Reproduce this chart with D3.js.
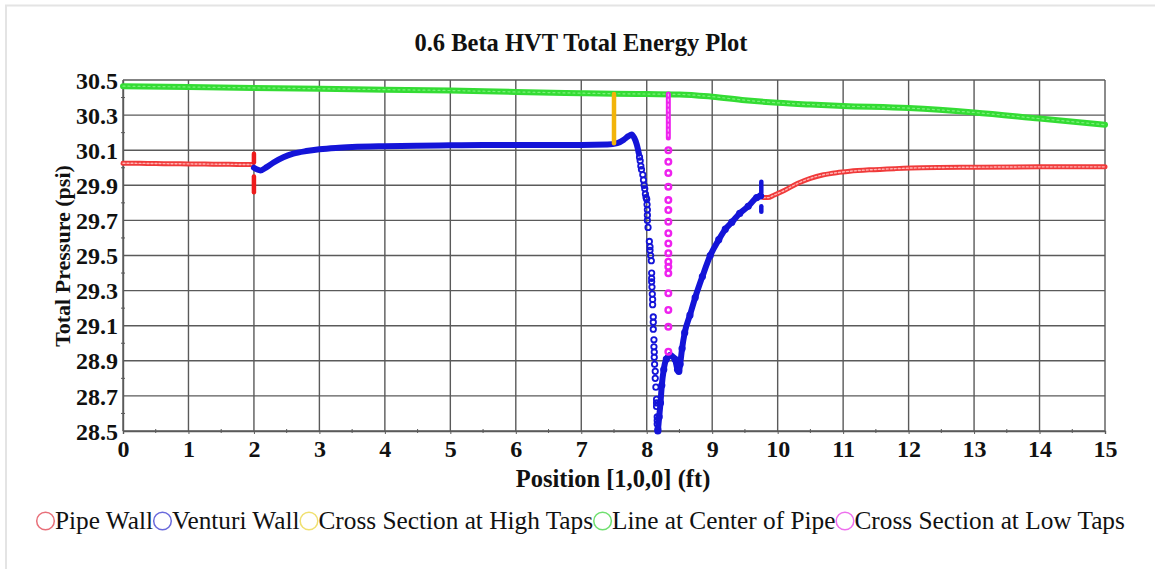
<!DOCTYPE html>
<html>
<head>
<meta charset="utf-8">
<script src="https://cdn.jsdelivr.net/npm/d3@7"></script>
<style>
  html, body { margin: 0; padding: 0; background: #fff; }
  svg { display: block; font-family: "Liberation Serif", "Times New Roman", serif; }
</style>
</head>
<body>
<div id="chart"></div>
<script>
// Chart data: [position ft, total pressure psi]
const xTicks = [0, 1, 2, 3, 4, 5, 6, 7, 8, 9, 10, 11, 12, 13, 14, 15];
const yTicks = [28.5, 28.7, 28.9, 29.1, 29.3, 29.5, 29.7, 29.9, 30.1, 30.3, 30.5];
const seriesNames = ["Pipe Wall", "Venturi Wall", "Cross Section at High Taps", "Line at Center of Pipe", "Cross Section at Low Taps"];

const pipeWallInlet = [[0, 30.026], [0.25, 30.025], [0.5, 30.024], [0.75, 30.023], [1, 30.022], [1.25, 30.021], [1.5, 30.02], [1.75, 30.019], [1.97, 30.018]];
const pipeWallTap = [[2, 30.08], [2, 30.07], [2, 30.06], [2, 30.05], [2, 30.04], [2, 30.03], [2, 29.95], [2, 29.94], [2, 29.93], [2, 29.92], [2, 29.91], [2, 29.9], [2, 29.88], [2, 29.86]];
const pipeWallOutlet = [[9.78, 29.83], [9.85, 29.83], [9.95, 29.845], [10.1, 29.87], [10.3, 29.91], [10.5, 29.94], [10.7, 29.96], [10.9, 29.972], [11.1, 29.98], [11.4, 29.988], [11.8, 29.995], [12.2, 30.0], [13, 30.003], [14, 30.005], [15, 30.005]];

const venturiInlet = [[2, 30.0], [2.05, 29.99], [2.1, 29.985], [2.2, 30.005], [2.3, 30.03], [2.45, 30.06], [2.6, 30.08], [2.8, 30.095], [3, 30.105], [3.25, 30.113], [3.5, 30.118], [4, 30.123], [4.5, 30.126], [5, 30.128], [5.5, 30.13], [6, 30.13], [6.5, 30.13], [7, 30.13], [7.4, 30.132], [7.55, 30.14], [7.65, 30.16], [7.72, 30.18], [7.77, 30.19], [7.81, 30.17], [7.85, 30.13], [7.88, 30.08]];
const venturiThroat = [[7.89, 30.06], [7.9, 30.04], [7.91, 30.01], [7.92, 29.99], [7.94, 29.96], [7.95, 29.93], [7.96, 29.9], [7.97, 29.88], [7.98, 29.85], [7.99, 29.83], [8, 29.82], [8.005, 29.79], [8.01, 29.76], [8.01, 29.73], [8.01, 29.7], [8.02, 29.66], [8.04, 29.58], [8.05, 29.55], [8.05, 29.53], [8.06, 29.5], [8.07, 29.47], [8.075, 29.4], [8.075, 29.37], [8.075, 29.35], [8.08, 29.32], [8.085, 29.28], [8.09, 29.25], [8.09, 29.22], [8.1, 29.15], [8.1, 29.12], [8.1, 29.08], [8.11, 29.02], [8.11, 28.98], [8.115, 28.95], [8.115, 28.92], [8.12, 28.88], [8.13, 28.84], [8.13, 28.8], [8.14, 28.75], [8.15, 28.68], [8.15, 28.66], [8.15, 28.64], [8.16, 28.58], [8.16, 28.56], [8.16, 28.54], [8.17, 28.51]];
const venturiRecovery = [[8.17, 28.5], [8.19, 28.58], [8.21, 28.66], [8.23, 28.76], [8.26, 28.85], [8.3, 28.91], [8.36, 28.93], [8.43, 28.91], [8.47, 28.85], [8.49, 28.84], [8.51, 28.88], [8.54, 28.97], [8.58, 29.06], [8.66, 29.16], [8.74, 29.26], [8.85, 29.38], [8.97, 29.5], [9.1, 29.59], [9.2, 29.65], [9.3, 29.69], [9.42, 29.74], [9.55, 29.78], [9.68, 29.83], [9.74, 29.84]];
const venturiTap = [[9.75, 29.92], [9.75, 29.91], [9.75, 29.9], [9.75, 29.89], [9.75, 29.88], [9.75, 29.87], [9.75, 29.86], [9.75, 29.78], [9.75, 29.77], [9.75, 29.76], [9.75, 29.75]];

const highTaps = [[7.5, 30.42], [7.5, 30.4], [7.5, 30.38], [7.5, 30.36], [7.5, 30.34], [7.5, 30.32], [7.5, 30.3], [7.5, 30.28], [7.5, 30.26], [7.5, 30.24], [7.5, 30.22], [7.5, 30.2], [7.5, 30.18], [7.5, 30.16], [7.5, 30.14]];

const centerLine = [[0, 30.465], [1, 30.46], [2, 30.455], [3, 30.45], [4, 30.445], [5, 30.44], [6, 30.432], [7, 30.425], [7.5, 30.422], [8, 30.42], [8.5, 30.418], [9, 30.405], [9.5, 30.385], [10, 30.37], [10.5, 30.36], [11, 30.352], [12, 30.34], [13, 30.315], [14, 30.28], [15, 30.245]];

const lowTapsDense = [[8.33, 30.42], [8.33, 30.405], [8.33, 30.39], [8.33, 30.375], [8.33, 30.36], [8.33, 30.345], [8.33, 30.33], [8.33, 30.31], [8.33, 30.29], [8.33, 30.27], [8.33, 30.25], [8.33, 30.23], [8.33, 30.21], [8.33, 30.19], [8.33, 30.17]];
const lowTapsSparse = [[8.33, 30.1], [8.33, 30.034], [8.33, 29.97], [8.33, 29.892], [8.33, 29.816], [8.33, 29.759], [8.33, 29.693], [8.33, 29.627], [8.33, 29.569], [8.33, 29.513], [8.33, 29.465], [8.33, 29.436], [8.33, 29.399], [8.33, 29.285], [8.33, 29.19], [8.33, 29.094], [8.33, 28.952]];

const colors = {
  pipe: "#ee1c1c",
  venturi: "#1414d8",
  high: "#f2b40a",
  center: "#34dc34",
  low: "#ee22ee"
};
const legendColors = ["#e8707a", "#6a6adc", "#f0e070", "#70e070", "#ee70ee"];

const W = 1155, H = 569;
const margin = { top: 80, right: 50, bottom: 138, left: 123 };
const width = W - margin.left - margin.right;
const height = H - margin.top - margin.bottom;
const serif = '"Liberation Serif", "Times New Roman", serif';

const svg = d3.select("#chart").append("svg")
  .attr("width", W)
  .attr("height", H)
  .attr("viewBox", [0, 0, W, H]);

// faint frame around the picture
svg.append("path")
  .attr("d", `M6,${H} V5.5 H${W}`)
  .attr("fill", "none")
  .attr("stroke", "#e4e4e4")
  .attr("stroke-width", 2);

const g = svg.append("g").attr("transform", `translate(${margin.left},${margin.top})`);

const x = d3.scaleLinear().domain([0, 15]).range([0, width]);
const y = d3.scaleLinear().domain([28.5, 30.5]).range([height, 0]);

// grid
g.append("g")
  .selectAll("line")
  .data(xTicks)
  .join("line")
  .attr("x1", (d) => x(d)).attr("x2", (d) => x(d))
  .attr("y1", 0).attr("y2", height)
  .attr("stroke", "#5a5a5a").attr("stroke-width", 1.4);

g.append("g")
  .selectAll("line")
  .data(yTicks)
  .join("line")
  .attr("x1", 0).attr("x2", width)
  .attr("y1", (d) => y(d)).attr("y2", (d) => y(d))
  .attr("stroke", "#5a5a5a").attr("stroke-width", 1.4);

// axes
g.append("g")
  .attr("transform", `translate(0,${height})`)
  .call(d3.axisBottom(x).tickValues(xTicks).tickSize(3).tickPadding(6).tickFormat(d3.format("d")))
  .call((a) => a.select(".domain").attr("stroke", "#5a5a5a").attr("stroke-width", 1.4))
  .call((a) => a.selectAll(".tick line").attr("stroke", "#5a5a5a"))
  .selectAll("text")
  .attr("fill", "#111")
  .style("font-family", serif)
  .style("font-size", "24px")
  .style("font-weight", "bold");

g.append("g")
  .call(d3.axisLeft(y).tickValues(yTicks).tickSize(0).tickPadding(5).tickFormat(d3.format(".1f")))
  .call((a) => a.select(".domain").attr("stroke", "#5a5a5a").attr("stroke-width", 1.4))
  .selectAll("text")
  .attr("fill", "#111")
  .attr("dy", "0.34em")
  .style("font-family", serif)
  .style("font-size", "24px")
  .style("font-weight", "bold");

// minor ticks
const xMinor = xTicks.slice(0, -1).map((d) => d + 0.5);
g.append("g").selectAll("line")
  .data(xMinor)
  .join("line")
  .attr("x1", (d) => x(d)).attr("x2", (d) => x(d))
  .attr("y1", height - 2).attr("y2", height + 2)
  .attr("stroke", "#5a5a5a");
const yMinor = yTicks.slice(0, -1).map((d) => d + 0.1);
g.append("g").selectAll("line")
  .data(yMinor)
  .join("line")
  .attr("x1", -2).attr("x2", 2)
  .attr("y1", (d) => y(d)).attr("y2", (d) => y(d))
  .attr("stroke", "#5a5a5a");

// series
const plot = g.append("g");
const line = d3.line().x((d) => x(d[0])).y((d) => y(d[1])).curve(d3.curveMonotoneX);
const lineV = d3.line().x((d) => x(d[0])).y((d) => y(d[1]));

function drawLine(data, color, w, gen = line, dash = null) {
  plot.append("path")
    .datum(data)
    .attr("d", gen)
    .attr("fill", "none")
    .attr("stroke", color)
    .attr("stroke-width", w)
    .attr("stroke-dasharray", dash)
    .attr("stroke-linecap", "round");
}

function drawMarkers(data, color, r = 2.4, sw = 1.4) {
  plot.append("g")
    .selectAll("circle")
    .data(data)
    .join("circle")
    .attr("cx", (d) => x(d[0]))
    .attr("cy", (d) => y(d[1]))
    .attr("r", r)
    .attr("fill", "none")
    .attr("stroke", color)
    .attr("stroke-width", sw);
}

// Line at Center of Pipe
drawLine(centerLine, colors.center, 6);
drawLine(centerLine, "#7cf07c", 1.2, line, "2,3");

// Pipe Wall (dense hollow markers look like a hatched band)
[pipeWallInlet, pipeWallOutlet].forEach((seg) => {
  drawLine(seg, "#f03a3a", 5);
  drawLine(seg, "#ffb4b4", 1.4, line, "2,2");
});
drawLine(pipeWallTap.slice(0, 6), colors.pipe, 4.5, lineV);
drawLine(pipeWallTap.slice(6), colors.pipe, 4.5, lineV);

// Venturi Wall
drawLine(venturiInlet, colors.venturi, 6);
drawMarkers(venturiThroat, colors.venturi, 2.7, 1.8);
drawLine(venturiRecovery, colors.venturi, 6);
drawMarkers(venturiRecovery, colors.venturi, 2.8, 1.6);
drawLine(venturiTap.slice(0, 7), colors.venturi, 4.5, lineV);
drawLine(venturiTap.slice(7), colors.venturi, 4.5, lineV);

// Cross Section at High Taps
drawLine(highTaps, colors.high, 4.5, lineV);

// Cross Section at Low Taps
drawLine(lowTapsDense, colors.low, 5, lineV);
drawLine(lowTapsDense, "#f8a0f8", 1.2, lineV, "2,3");
drawMarkers(lowTapsSparse, colors.low, 2.8, 2.4);

// title and axis labels
svg.append("text")
  .attr("x", 581)
  .attr("y", 51)
  .attr("text-anchor", "middle")
  .attr("fill", "#111")
  .style("font-size", "24.5px")
  .style("font-weight", "bold")
  .text("0.6 Beta HVT Total Energy Plot");

svg.append("text")
  .attr("x", 613)
  .attr("y", 487)
  .attr("text-anchor", "middle")
  .attr("fill", "#111")
  .style("font-size", "24.5px")
  .style("font-weight", "bold")
  .text("Position [1,0,0] (ft)");

svg.append("text")
  .attr("transform", "translate(70,256) rotate(-90)")
  .attr("text-anchor", "middle")
  .attr("fill", "#111")
  .style("font-size", "22px")
  .style("font-weight", "bold")
  .text("Total Pressure (psi)");

// legend
const legend = svg.append("g").attr("transform", "translate(36,521)");
let lx = 0;
seriesNames.forEach((name, i) => {
  legend.append("circle")
    .attr("cx", lx + 9.5)
    .attr("cy", 0)
    .attr("r", 8.8)
    .attr("fill", "none")
    .attr("stroke", legendColors[i])
    .attr("stroke-width", 1.5);
  const t = legend.append("text")
    .attr("x", lx + 19)
    .attr("y", 0)
    .attr("dy", "0.33em")
    .attr("fill", "#111")
    .style("font-size", "25.3px")
    .text(name);
  lx += 19 + t.node().getComputedTextLength();
});
</script>
</body>
</html>
